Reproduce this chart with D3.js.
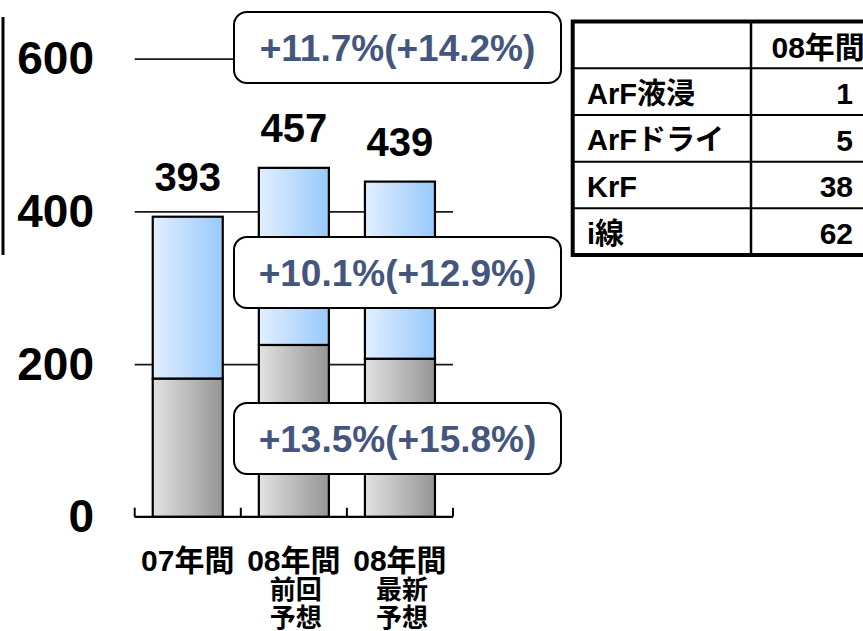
<!DOCTYPE html>
<html>
<head>
<meta charset="utf-8">
<script src="https://cdn.jsdelivr.net/npm/d3@7"></script>
<style>
  html, body { margin: 0; padding: 0; background: #fff; }
  svg { display: block; }
  text { font-family: "Liberation Sans", Arial, "Noto Sans CJK JP", sans-serif; font-weight: bold; }
</style>
</head>
<body>
<svg id="chart" width="863" height="631"></svg>
<script>
// ---- data ----
const categories = ["07年間", "08年間 前回予想", "08年間 最新予想"];
const categoryLines = [["07年間"], ["08年間", "前回", "予想"], ["08年間", "最新", "予想"]];
const lowerValues = [181, 225, 207];   // gray segment
const upperValues = [212, 232, 232];   // blue segment
const totals = [393, 457, 439];
const yTicks = [0, 200, 400, 600];
const growthLabels = ["+11.7%(+14.2%)", "+10.1%(+12.9%)", "+13.5%(+15.8%)"];
const tableHeader = ["", "08年間"];
const tableRows = ["ArF液浸", "ArFドライ", "KrF", "i線"];
const tableValues = ["1", "5", "38", "62"];

// ---- layout ----
const svg = d3.select("#chart");
const plotLeft = 134.7, plotRight = 453, plotBottom = 516.7, plotTop = 58.7;

const x = d3.scaleBand().domain(categories).range([plotLeft, plotRight])
  .paddingInner(0.34).paddingOuter(0.17);
const y = d3.scaleLinear().domain([0, 600]).range([plotBottom, plotTop]);

const defs = svg.append("defs");
function grad(id, c0, c1) {
  const g = defs.append("linearGradient").attr("id", id)
    .attr("x1", "0%").attr("x2", "100%").attr("y1", "0%").attr("y2", "0%");
  g.append("stop").attr("offset", "0%").attr("stop-color", c0);
  g.append("stop").attr("offset", "100%").attr("stop-color", c1);
}
grad("gBlue", "#e2efff", "#98c9fb");
grad("gGray", "#e2e2e2", "#959595");

// left edge line
svg.append("line").attr("x1", 3).attr("x2", 3).attr("y1", 17).attr("y2", 255)
  .attr("stroke", "#000").attr("stroke-width", 3);

// y axis with gridlines
const yAxis = svg.append("g").attr("transform", `translate(${plotLeft},0)`)
  .call(d3.axisLeft(y).tickValues(yTicks).tickSize(-(plotRight - plotLeft)).tickPadding(40.7).tickFormat(d3.format("d")));
yAxis.select(".domain").remove();
yAxis.selectAll(".tick line").attr("stroke", "#1a1a1a").attr("stroke-width", 1.8);
yAxis.selectAll(".tick text").attr("font-size", 46).attr("fill", "#000")
  .attr("font-family", "'Liberation Sans', Arial, sans-serif").attr("font-weight", "bold").attr("dy", "0.33em");

// x axis baseline + boundary ticks
const step = x.step();
const boundaries = [plotLeft].concat(categories.slice(1).map(c => x(c) - x.paddingInner() * step / 2)).concat([plotRight]);
svg.append("line").attr("x1", plotLeft).attr("x2", plotRight).attr("y1", plotBottom).attr("y2", plotBottom)
  .attr("stroke", "#000").attr("stroke-width", 2);
svg.selectAll(".btick").data(boundaries).enter().append("line")
  .attr("x1", d => d).attr("x2", d => d).attr("y1", plotBottom).attr("y2", plotBottom - 9)
  .attr("stroke", "#000").attr("stroke-width", 2);

// stacked bars
const stackData = categories.map((c, i) => ({ cat: c, lower: lowerValues[i], upper: upperValues[i] }));
const series = d3.stack().keys(["lower", "upper"])(stackData);
const fills = { lower: "url(#gGray)", upper: "url(#gBlue)" };
series.forEach(s => {
  svg.append("g").selectAll("rect").data(s).enter().append("rect")
    .attr("x", d => x(d.data.cat))
    .attr("y", d => y(d[1]))
    .attr("width", x.bandwidth())
    .attr("height", d => y(d[0]) - y(d[1]))
    .attr("fill", fills[s.key])
    .attr("stroke", "#000").attr("stroke-width", 2.2);
});

// total labels
svg.selectAll(".tot").data(categories).enter().append("text")
  .attr("x", c => x(c) + x.bandwidth() / 2)
  .attr("y", (c, i) => y(totals[i]) - 26)
  .attr("text-anchor", "middle").attr("font-size", 40).attr("font-weight", "bold").attr("fill", "#000")
  .text((c, i) => totals[i]);

// category labels
categories.forEach((c, i) => {
  const t = svg.append("text").attr("text-anchor", "middle").attr("fill", "#000").attr("font-weight", "bold");
  categoryLines[i].forEach((ln, j) => {
    t.append("tspan").attr("x", x(c) + x.bandwidth() / 2 + (j > 0 ? 2 : 0))
      .attr("y", 571 + j * 28)
      .attr("font-size", j === 0 ? 30 : 26)
      .text(ln);
  });
});

// growth annotation boxes
const boxTops = [12, 237, 403];
const boxH = 71, boxX = 234, boxW = 327;
growthLabels.forEach((lab, i) => {
  svg.append("rect").attr("x", boxX).attr("y", boxTops[i]).attr("width", boxW).attr("height", boxH)
    .attr("rx", 13).attr("ry", 13).attr("fill", "#fff").attr("stroke", "#000").attr("stroke-width", 2);
  svg.append("text").attr("x", boxX + boxW / 2).attr("y", boxTops[i] + boxH / 2)
    .attr("dy", "0.36em").attr("text-anchor", "middle").attr("font-size", 37)
    .attr("font-weight", "bold").attr("fill", "#44567e").text(lab);
});

// table
const tX0 = 572.7, tX1 = 751, tX2 = 930, tY0 = 21.5;
const rowEdges = [21.5, 68.3, 115, 161.7, 208.3, 255];
const tg = svg.append("g");
rowEdges.slice(1, -1).forEach(yy => {
  tg.append("line").attr("x1", tX0).attr("x2", tX2).attr("y1", yy).attr("y2", yy)
    .attr("stroke", "#000").attr("stroke-width", 2);
});
tg.append("line").attr("x1", tX1).attr("x2", tX1).attr("y1", tY0).attr("y2", rowEdges[5])
  .attr("stroke", "#000").attr("stroke-width", 2.5);
tg.append("rect").attr("x", tX0).attr("y", tY0).attr("width", tX2 - tX0).attr("height", rowEdges[5] - tY0)
  .attr("fill", "none").attr("stroke", "#000").attr("stroke-width", 4);
tg.append("text").attr("x", 771.5).attr("y", (rowEdges[0] + rowEdges[1]) / 2 + 2).attr("dy", "0.36em")
  .attr("font-size", 30).attr("font-weight", "bold").attr("fill", "#000").text(tableHeader[1]);
tableRows.forEach((r, i) => {
  const cy = (rowEdges[i + 1] + rowEdges[i + 2]) / 2 + 1.5;
  tg.append("text").attr("x", 587).attr("y", cy).attr("dy", "0.36em")
    .attr("font-size", 29).attr("font-weight", "bold").attr("fill", "#000").text(r);
  tg.append("text").attr("x", 853).attr("y", cy).attr("dy", "0.36em").attr("text-anchor", "end")
    .attr("font-size", 30).attr("font-weight", "bold").attr("fill", "#000").text(tableValues[i]);
});
</script>
</body>
</html>
